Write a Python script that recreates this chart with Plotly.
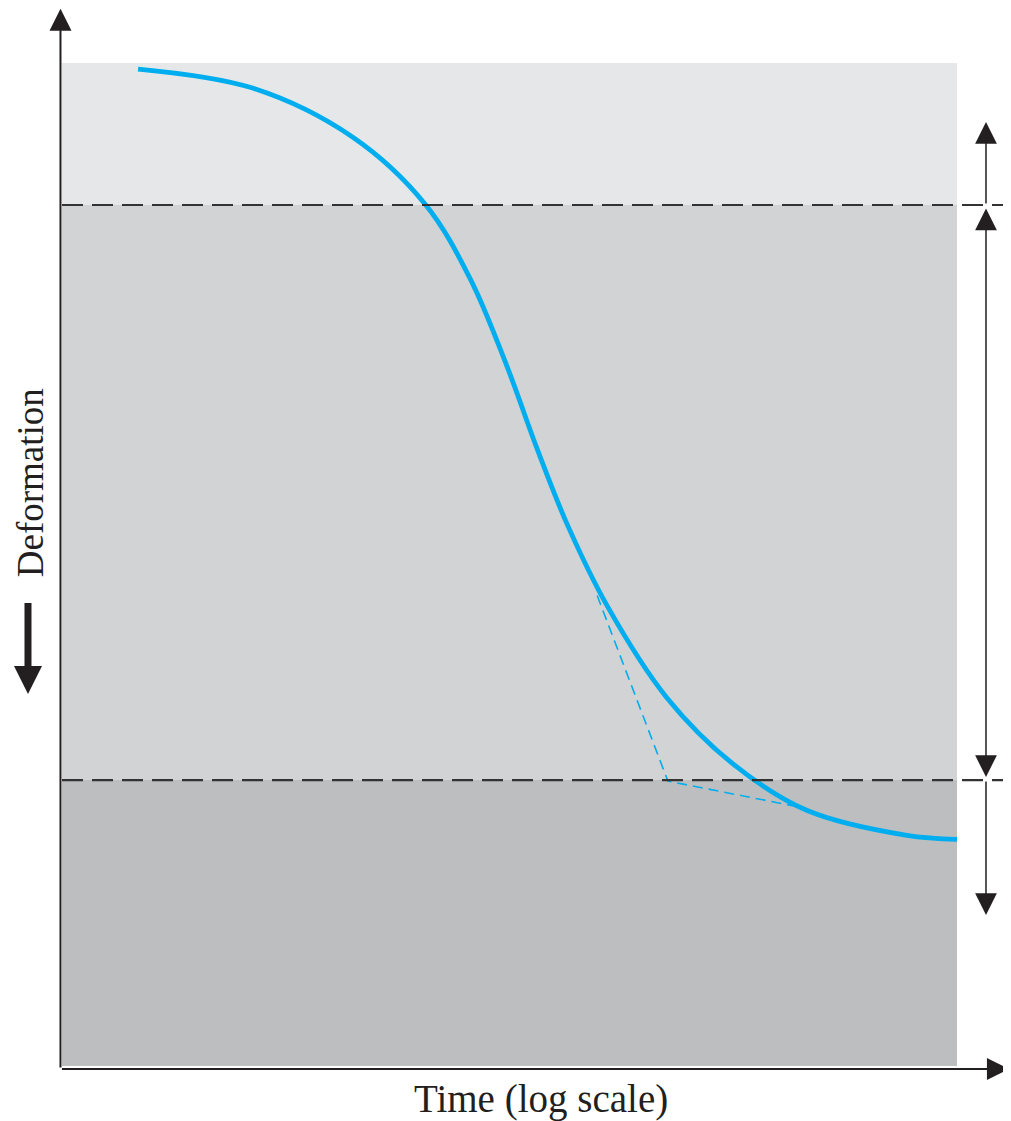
import plotly.graph_objects as go

# ---- data (schematic units: x = log time, y = deformation, increasing downward) ----
curve_x = [0.85, 2.13, 3.25, 4.06, 4.56, 4.97, 5.31, 5.64, 6.09, 6.76, 7.50, 8.32, 9.44, 10.00]
curve_y = [0.6, 2.5, 7.4, 14.1, 21.5, 30.2, 38.5, 45.9, 54.1, 63.3, 69.9, 74.5, 77.0, 77.4]

tangent_x = [5.98, 6.77, 8.25]
tangent_y = [53.1, 71.6, 74.2]

band_edges = [0.0, 14.16, 71.49, 100.0]   # top, primary/secondary boundaries, bottom
band_colors = ["#E6E7E8", "#D1D3D4", "#BCBEC0"]
x_min, x_max = 0.0, 10.0

boundary_levels = [14.16, 71.49]

# right-hand dimension arrows (tip / tail levels)
dim_x = 10.324
dim_upper = (5.88, 14.16)
dim_middle = (14.36, 71.19)
dim_lower = (84.95, 71.49)

x_label = "Time (log scale)"
y_label = "Deformation"

INK = "#231F20"
CYAN = "#00AEEF"
FONT = "Liberation Serif"

# page body has an 8px margin; ranges account for it
X_RANGE = [-0.60335, 10.6034]
Y_RANGE = [105.484, -5.4835]

fig = go.Figure()

shapes = []
for i, col in enumerate(band_colors):
    shapes.append(dict(type="rect", xref="x", yref="y", x0=x_min, x1=x_max,
                       y0=band_edges[i], y1=band_edges[i + 1],
                       fillcolor=col, line=dict(width=0), layer="below"))
for lv in boundary_levels:
    shapes.append(dict(type="line", xref="x", yref="y", x0=x_min, x1=X_RANGE[1],
                       y0=lv, y1=lv, line=dict(color="#333333", width=2.2, dash="21px,9px"),
                       layer="above"))

fig.add_trace(go.Scatter(x=tangent_x, y=tangent_y, mode="lines",
                         line=dict(color=CYAN, width=1.6, dash="10px,6px"),
                         hoverinfo="skip", showlegend=False))
fig.add_trace(go.Scatter(x=curve_x, y=curve_y, mode="lines",
                         line=dict(color=CYAN, width=4.8, shape="spline", smoothing=1.0),
                         hoverinfo="skip", showlegend=False))

ann = []
def arrow(x_tip, y_tip, x_tail, y_tail, width, size, head=2, both=False):
    d = dict(x=x_tip, y=y_tip, ax=x_tail, ay=y_tail, xref="x", yref="y",
             axref="x", ayref="y", text="", showarrow=True, arrowhead=head,
             arrowsize=size, arrowwidth=width, arrowcolor=INK, standoff=0)
    if both:
        d.update(arrowside="end+start", startarrowhead=head, startarrowsize=size,
                 startstandoff=0)
    ann.append(d)

# axes
arrow(-0.017, -5.40, -0.017, 100.3, 2, 2.2)
arrow(10.58, 100.3, -0.017, 100.3, 2, 2.2)
# dimension arrows
arrow(dim_x, dim_upper[0], dim_x, dim_upper[1], 1.5, 2.9)
arrow(dim_x, dim_middle[1], dim_x, dim_middle[0], 1.5, 2.9, both=True)
arrow(dim_x, dim_lower[0], dim_x, dim_lower[1], 1.5, 2.9)
# deformation direction arrow
arrow(-0.380, 62.9, -0.380, 53.7, 7, 0.8)

ann.append(dict(x=5.352, y=103.3, xref="x", yref="y", text=x_label, showarrow=False,
                font=dict(family=FONT, size=39, color=INK)))
ann.append(dict(x=-0.3575, y=41.9, xref="x", yref="y", text=y_label, showarrow=False,
                textangle=-90, font=dict(family=FONT, size=37, color=INK)))

fig.update_layout(
    width=1003, height=1113, autosize=False,
    margin=dict(l=0, r=0, t=0, b=0, pad=0),
    paper_bgcolor="white", plot_bgcolor="white",
    xaxis=dict(range=X_RANGE, visible=False, fixedrange=True),
    yaxis=dict(range=Y_RANGE, visible=False, fixedrange=True),
    shapes=shapes, annotations=ann, showlegend=False,
)

fig.write_html("out.html", config={"displayModeBar": False})
